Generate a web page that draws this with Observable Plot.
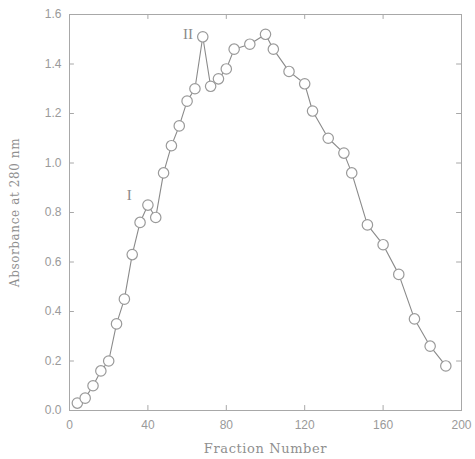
<!DOCTYPE html>
<html>
<head>
<meta charset="utf-8">
<script src="https://cdn.jsdelivr.net/npm/d3@7"></script>
<script src="https://cdn.jsdelivr.net/npm/@observablehq/plot@0.6"></script>
<style>
  html, body { margin: 0; padding: 0; background: #fff; }
  .axlabel text { letter-spacing: 0.6px; }
</style>
</head>
<body>
<div id="chart"></div>
<script>
const fraction = [4, 8, 12, 16, 20, 24, 28, 32, 36, 40, 44, 48, 52, 56, 60, 64, 68, 72, 76, 80, 84, 92, 100, 104, 112, 120, 124, 132, 140, 144, 152, 160, 168, 176, 184, 192];
const absorbance = [0.03, 0.05, 0.10, 0.16, 0.20, 0.35, 0.45, 0.63, 0.76, 0.83, 0.78, 0.96, 1.07, 1.15, 1.25, 1.30, 1.51, 1.31, 1.34, 1.38, 1.46, 1.48, 1.52, 1.46, 1.37, 1.32, 1.21, 1.10, 1.04, 0.96, 0.75, 0.67, 0.55, 0.37, 0.26, 0.18];
const xTicks = [0, 40, 80, 120, 160, 200];
const yTicks = [0, 0.2, 0.4, 0.6, 0.8, 1.0, 1.2, 1.4, 1.6];
const peakLabels = ["I", "II"];
const peakX = [30.5, 60.5];
const peakY = [0.87, 1.52];

const data = fraction.map((f, i) => ({f, a: absorbance[i]}));
const peaks = peakLabels.map((t, i) => ({t, x: peakX[i], y: peakY[i]}));

const grey = "#8a8a8a";
const light = "#a8a8a8";

const chart = Plot.plot({
  width: 475,
  height: 459,
  marginLeft: 69,
  marginRight: 14,
  marginTop: 14,
  marginBottom: 49,
  style: {background: "#fff", fontFamily: "Liberation Sans, sans-serif"},
  x: {domain: [0, 200], ticks: xTicks},
  y: {domain: [0, 1.6], ticks: yTicks},
  marks: [
    Plot.frame({stroke: light, strokeWidth: 1}),
    // inward ticks on all four sides
    Plot.ruleX(xTicks, {y1: 0, y2: 0.02, stroke: light}),
    Plot.ruleX(xTicks, {y1: 1.6, y2: 1.58, stroke: light}),
    Plot.ruleY(yTicks, {x1: 0, x2: 2.5, stroke: light}),
    Plot.ruleY(yTicks, {x1: 197.5, x2: 200, stroke: light}),
    Plot.axisX(xTicks, {anchor: "bottom", tickSize: 0, tickPadding: 10, fontSize: 12, fill: "#9a9a9a", label: null}),
    Plot.axisY(yTicks, {anchor: "left", tickSize: 0, tickPadding: 8, fontSize: 12, fill: "#9a9a9a", tickFormat: d3.format(".1f"), label: null}),
    Plot.text(["Fraction Number"], {frameAnchor: "bottom", dy: 42, fontSize: 13, fontFamily: "DejaVu Serif, serif", fill: "#8f8f8f", className: "axlabel"}),
    Plot.text(["Absorbance at 280 nm"], {frameAnchor: "left", textAnchor: "middle", rotate: -90, dx: -54, fontSize: 12, fontFamily: "DejaVu Serif, serif", fill: "#8f8f8f", className: "axlabel"}),
    Plot.line(data, {x: "f", y: "a", stroke: grey, strokeWidth: 1.1}),
    Plot.dot(data, {x: "f", y: "a", r: 5.2, stroke: "#9a9a9a", strokeWidth: 1.2, fill: "#fff"}),
    Plot.text(peaks, {x: "x", y: "y", text: "t", fontSize: 15, fontFamily: "Liberation Serif, serif", fill: "#8a8a8a"})
  ]
});
document.getElementById("chart").appendChild(chart);
</script>
</body>
</html>
